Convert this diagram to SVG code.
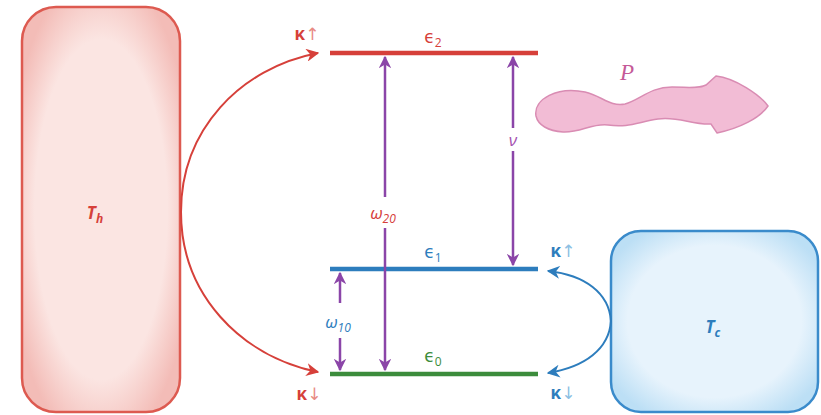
<svg xmlns="http://www.w3.org/2000/svg" width="821" height="415" viewBox="0 0 821 415">
<defs>
<style>
.lbl{font-family:"Open Sans","DejaVu Sans",sans-serif;font-size:17px;text-anchor:middle}
.it{font-style:italic;font-weight:bold}
.sub{font-size:12px}
.red{fill:#d6403a}.blue{fill:#2d7dbd}.green{fill:#3c8c3c}.pur{fill:#a552b0}
.lvl{stroke-width:4.5;fill:none}
.tr{stroke:#8b45a8;stroke-width:2.5;fill:none}
</style>
<radialGradient id="gh" cx="0.5" cy="0.5" r="0.6">
<stop offset="0.7" stop-color="#fbe5e2"/><stop offset="1" stop-color="#f3bcb7"/>
</radialGradient>
<radialGradient id="gc" cx="0.5" cy="0.5" r="0.6">
<stop offset="0.7" stop-color="#e7f3fc"/><stop offset="1" stop-color="#bcdff5"/>
</radialGradient>
<marker id="ap" viewBox="0 0 10 10" refX="9" refY="5" markerWidth="5" markerHeight="5" orient="auto-start-reverse" markerUnits="strokeWidth">
<path d="M0,0 L10,5 L0,10 L3,5 Z" fill="#8b45a8"/>
</marker>
<marker id="ar" viewBox="0 0 10 10" refX="9" refY="5" markerWidth="6.5" markerHeight="6.5" orient="auto-start-reverse" markerUnits="strokeWidth">
<path d="M0,0 L10,5 L0,10 L3,5 Z" fill="#d6403a"/>
</marker>
<marker id="ab" viewBox="0 0 10 10" refX="9" refY="5" markerWidth="6.5" markerHeight="6.5" orient="auto-start-reverse" markerUnits="strokeWidth">
<path d="M0,0 L10,5 L0,10 L3,5 Z" fill="#2d7dbd"/>
</marker>
</defs>
<rect width="821" height="415" fill="#fff"/>

<g id="hot">
<rect x="22" y="7" width="158" height="405" rx="34" fill="url(#gh)" stroke="#dd5a50" stroke-width="2.5"/>
<text class="lbl it red" x="95" y="219">T<tspan class="sub" dy="4">h</tspan></text>
</g>

<g id="cold">
<rect x="611" y="231" width="207" height="181" rx="30" fill="url(#gc)" stroke="#3a8bcb" stroke-width="2.5"/>
<text class="lbl it blue" x="713" y="333">T<tspan class="sub" dy="4">c</tspan></text>
</g>

<g id="work">
<path d="M536,116 C533,99 558,86 585,92 C602,96 610,107 625,104 C640,100 650,87 672,87 C688,87 698,89 706,85 L716,76 C735,78 760,95 768,106 C760,118 740,128 717,133 L711,124 C692,125 678,116 658,119 C638,122 628,128 608,125 C592,123 580,133 563,132 C548,131 538,125 536,116 Z" fill="#f2bcd5" stroke="#d98cb3" stroke-width="1.5"/>
<text x="627" y="80" font-family="Liberation Serif, serif" font-style="italic" font-size="23" fill="#c55a98" text-anchor="middle">P</text>
</g>

<g id="e2">
<line class="lvl" x1="330" y1="53" x2="538" y2="53" stroke="#d6403a"/>
<text class="lbl red" x="433" y="43">ϵ<tspan class="sub" dy="4">2</tspan></text>
</g>
<g id="e1">
<line class="lvl" x1="330" y1="269" x2="538" y2="269" stroke="#2d7dbd"/>
<text class="lbl blue" x="433" y="258">ϵ<tspan class="sub" dy="4">1</tspan></text>
</g>
<g id="e0">
<line class="lvl" x1="330" y1="374" x2="538" y2="374" stroke="#3c8c3c"/>
<text class="lbl green" x="433" y="362">ϵ<tspan class="sub" dy="4">0</tspan></text>
</g>

<g id="connectors">
<path d="M181,212 C181,130 240,68 318,53" fill="none" stroke="#d6403a" stroke-width="2" marker-end="url(#ar)"/>
<path d="M181,212 C181,294 240,356 318,372" fill="none" stroke="#d6403a" stroke-width="2" marker-end="url(#ar)"/>
<path d="M611,321 C609,293 585,275 548,271" fill="none" stroke="#2d7dbd" stroke-width="2" marker-end="url(#ab)"/>
<path d="M611,321 C609,349 585,367 548,373" fill="none" stroke="#2d7dbd" stroke-width="2" marker-end="url(#ab)"/>

<line class="tr" x1="385" y1="197" x2="385" y2="57" marker-end="url(#ap)"/>
<line class="tr" x1="385" y1="228" x2="385" y2="370" marker-end="url(#ap)"/>
<line class="tr" x1="513" y1="128" x2="513" y2="57" marker-end="url(#ap)"/>
<line class="tr" x1="513" y1="151" x2="513" y2="265" marker-end="url(#ap)"/>
<line class="tr" x1="340" y1="303" x2="340" y2="273" marker-end="url(#ap)"/>
<line class="tr" x1="340" y1="338" x2="340" y2="370" marker-end="url(#ap)"/>

<text class="lbl red" x="383" y="219" font-style="italic">ω<tspan class="sub" dy="4">20</tspan></text>
<text class="lbl pur" x="513" y="146" font-style="italic">ν</text>
<text class="lbl blue" x="338" y="328" font-style="italic">ω<tspan class="sub" dy="4">10</tspan></text>

<text class="lbl red" x="307" y="40" font-size="15"><tspan font-weight="bold">κ</tspan><tspan fill="#e88a84">↑</tspan></text>
<text class="lbl red" x="309" y="400" font-size="15"><tspan font-weight="bold">κ</tspan><tspan fill="#e88a84">↓</tspan></text>
<text class="lbl blue" x="563" y="257" font-size="15"><tspan font-weight="bold">κ</tspan><tspan fill="#8dbfe3">↑</tspan></text>
<text class="lbl blue" x="563" y="399" font-size="15"><tspan font-weight="bold">κ</tspan><tspan fill="#8dbfe3">↓</tspan></text>
</g>
</svg>
